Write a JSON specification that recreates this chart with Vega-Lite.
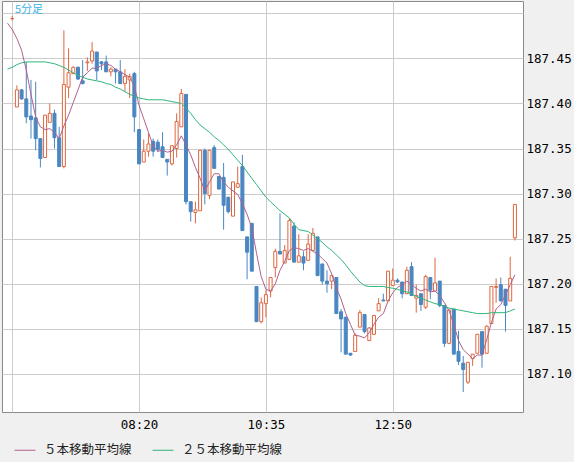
{
  "$schema": "https://vega.github.io/schema/vega-lite/v6.json",
  "width": 521,
  "height": 411,
  "autosize": {"type": "none"},
  "padding": {"left": 2, "top": 1, "right": 51, "bottom": 50},
  "background": "#f0f0f0",
  "title": {
    "text": "5分足",
    "anchor": "start",
    "frame": "group",
    "offset": -14,
    "dx": 13,
    "font": "Noto Sans CJK JP",
    "fontSize": 11,
    "fontWeight": "normal",
    "color": "#38b4ea"
  },
  "config": {
    "view": {"fill": "#ffffff", "stroke": "#8a8a8a"},
    "axis": {
      "labelFont": "DejaVu Sans Mono",
      "labelFontSize": 12.5,
      "labelColor": "#000000",
      "gridColor": "#cccccc",
      "ticks": false,
      "domain": false,
      "title": null
    }
  },
  "data": {
    "values": [
      {"i": -1, "ma5": 187.489, "ma25": 187.438},
      {"i": 0, "o": 187.494, "h": 187.497, "l": 187.492, "c": 187.494, "ma5": 187.482, "ma25": 187.440},
      {"i": 1, "o": 187.396, "h": 187.420, "l": 187.396, "c": 187.415, "ma5": 187.472, "ma25": 187.443},
      {"i": 2, "o": 187.415, "h": 187.416, "l": 187.404, "c": 187.405, "ma5": 187.459, "ma25": 187.445},
      {"i": 3, "o": 187.405, "h": 187.446, "l": 187.378, "c": 187.385, "ma5": 187.437, "ma25": 187.446},
      {"i": 4, "o": 187.386, "h": 187.426, "l": 187.361, "c": 187.382, "ma5": 187.410, "ma25": 187.446},
      {"i": 5, "o": 187.384, "h": 187.424, "l": 187.348, "c": 187.361, "ma5": 187.385, "ma25": 187.446},
      {"i": 6, "o": 187.361, "h": 187.361, "l": 187.329, "c": 187.339, "ma5": 187.374, "ma25": 187.446},
      {"i": 7, "o": 187.340, "h": 187.387, "l": 187.340, "c": 187.387, "ma5": 187.371, "ma25": 187.446},
      {"i": 8, "o": 187.379, "h": 187.400, "l": 187.379, "c": 187.389, "ma5": 187.372, "ma25": 187.445},
      {"i": 9, "o": 187.389, "h": 187.393, "l": 187.350, "c": 187.362, "ma5": 187.368, "ma25": 187.444},
      {"i": 10, "o": 187.362, "h": 187.374, "l": 187.330, "c": 187.330, "ma5": 187.361, "ma25": 187.442},
      {"i": 11, "o": 187.330, "h": 187.481, "l": 187.328, "c": 187.421, "ma5": 187.375, "ma25": 187.440},
      {"i": 12, "o": 187.418, "h": 187.461, "l": 187.406, "c": 187.434, "ma5": 187.387, "ma25": 187.437},
      {"i": 13, "o": 187.433, "h": 187.441, "l": 187.433, "c": 187.440, "ma5": 187.401, "ma25": 187.434},
      {"i": 14, "o": 187.440, "h": 187.441, "l": 187.426, "c": 187.427, "ma5": 187.415, "ma25": 187.431},
      {"i": 15, "o": 187.425, "h": 187.448, "l": 187.421, "c": 187.422, "ma5": 187.429, "ma25": 187.429},
      {"i": 16, "o": 187.445, "h": 187.451, "l": 187.436, "c": 187.446, "ma5": 187.434, "ma25": 187.427},
      {"i": 17, "o": 187.447, "h": 187.468, "l": 187.444, "c": 187.458, "ma5": 187.439, "ma25": 187.426},
      {"i": 18, "o": 187.457, "h": 187.457, "l": 187.426, "c": 187.436, "ma5": 187.439, "ma25": 187.425},
      {"i": 19, "o": 187.446, "h": 187.447, "l": 187.437, "c": 187.444, "ma5": 187.442, "ma25": 187.424},
      {"i": 20, "o": 187.446, "h": 187.453, "l": 187.435, "c": 187.435, "ma5": 187.444, "ma25": 187.422},
      {"i": 21, "o": 187.435, "h": 187.440, "l": 187.430, "c": 187.438, "ma5": 187.442, "ma25": 187.421},
      {"i": 22, "o": 187.438, "h": 187.438, "l": 187.422, "c": 187.435, "ma5": 187.438, "ma25": 187.418},
      {"i": 23, "o": 187.435, "h": 187.448, "l": 187.422, "c": 187.422, "ma5": 187.435, "ma25": 187.416},
      {"i": 24, "o": 187.422, "h": 187.438, "l": 187.413, "c": 187.430, "ma5": 187.432, "ma25": 187.413},
      {"i": 25, "o": 187.426, "h": 187.433, "l": 187.406, "c": 187.430, "ma5": 187.429, "ma25": 187.410},
      {"i": 26, "o": 187.433, "h": 187.435, "l": 187.368, "c": 187.385, "ma5": 187.419, "ma25": 187.408},
      {"i": 27, "o": 187.371, "h": 187.371, "l": 187.333, "c": 187.333, "ma5": 187.398, "ma25": 187.406},
      {"i": 28, "o": 187.335, "h": 187.360, "l": 187.335, "c": 187.347, "ma5": 187.383, "ma25": 187.405},
      {"i": 29, "o": 187.347, "h": 187.367, "l": 187.341, "c": 187.355, "ma5": 187.368, "ma25": 187.404},
      {"i": 30, "o": 187.358, "h": 187.361, "l": 187.341, "c": 187.347, "ma5": 187.353, "ma25": 187.404},
      {"i": 31, "o": 187.357, "h": 187.360, "l": 187.346, "c": 187.349, "ma5": 187.347, "ma25": 187.404},
      {"i": 32, "o": 187.352, "h": 187.368, "l": 187.340, "c": 187.340, "ma5": 187.348, "ma25": 187.404},
      {"i": 33, "o": 187.338, "h": 187.338, "l": 187.320, "c": 187.335, "ma5": 187.346, "ma25": 187.403},
      {"i": 34, "o": 187.333, "h": 187.353, "l": 187.331, "c": 187.353, "ma5": 187.347, "ma25": 187.402},
      {"i": 35, "o": 187.350, "h": 187.389, "l": 187.340, "c": 187.380, "ma5": 187.354, "ma25": 187.401},
      {"i": 36, "o": 187.374, "h": 187.416, "l": 187.374, "c": 187.411, "ma5": 187.364, "ma25": 187.400},
      {"i": 37, "o": 187.410, "h": 187.410, "l": 187.288, "c": 187.291, "ma5": 187.354, "ma25": 187.395},
      {"i": 38, "o": 187.291, "h": 187.291, "l": 187.269, "c": 187.280, "ma5": 187.343, "ma25": 187.389},
      {"i": 39, "o": 187.279, "h": 187.291, "l": 187.267, "c": 187.282, "ma5": 187.329, "ma25": 187.382},
      {"i": 40, "o": 187.281, "h": 187.348, "l": 187.281, "c": 187.348, "ma5": 187.317, "ma25": 187.376},
      {"i": 41, "o": 187.348, "h": 187.350, "l": 187.288, "c": 187.300, "ma5": 187.303, "ma25": 187.372},
      {"i": 42, "o": 187.298, "h": 187.348, "l": 187.294, "c": 187.348, "ma5": 187.313, "ma25": 187.368},
      {"i": 43, "o": 187.351, "h": 187.354, "l": 187.328, "c": 187.328, "ma5": 187.322, "ma25": 187.363},
      {"i": 44, "o": 187.319, "h": 187.319, "l": 187.305, "c": 187.305, "ma5": 187.322, "ma25": 187.359},
      {"i": 45, "o": 187.318, "h": 187.334, "l": 187.260, "c": 187.287, "ma5": 187.313, "ma25": 187.354},
      {"i": 46, "o": 187.296, "h": 187.296, "l": 187.278, "c": 187.280, "ma5": 187.307, "ma25": 187.349},
      {"i": 47, "o": 187.275, "h": 187.313, "l": 187.275, "c": 187.313, "ma5": 187.303, "ma25": 187.343},
      {"i": 48, "o": 187.307, "h": 187.330, "l": 187.307, "c": 187.311, "ma5": 187.299, "ma25": 187.337},
      {"i": 49, "o": 187.330, "h": 187.343, "l": 187.259, "c": 187.259, "ma5": 187.289, "ma25": 187.331},
      {"i": 50, "o": 187.252, "h": 187.252, "l": 187.205, "c": 187.235, "ma5": 187.277, "ma25": 187.324},
      {"i": 51, "o": 187.267, "h": 187.267, "l": 187.214, "c": 187.214, "ma5": 187.262, "ma25": 187.317},
      {"i": 52, "o": 187.197, "h": 187.197, "l": 187.158, "c": 187.158, "ma5": 187.234, "ma25": 187.310},
      {"i": 53, "o": 187.158, "h": 187.185, "l": 187.156, "c": 187.179, "ma5": 187.208, "ma25": 187.303},
      {"i": 54, "o": 187.178, "h": 187.193, "l": 187.163, "c": 187.188, "ma5": 187.194, "ma25": 187.296},
      {"i": 55, "o": 187.192, "h": 187.207, "l": 187.185, "c": 187.207, "ma5": 187.192, "ma25": 187.291},
      {"i": 56, "o": 187.218, "h": 187.239, "l": 187.207, "c": 187.236, "ma5": 187.200, "ma25": 187.286},
      {"i": 57, "o": 187.236, "h": 187.278, "l": 187.233, "c": 187.233, "ma5": 187.215, "ma25": 187.281},
      {"i": 58, "o": 187.223, "h": 187.243, "l": 187.223, "c": 187.237, "ma5": 187.225, "ma25": 187.277},
      {"i": 59, "o": 187.227, "h": 187.273, "l": 187.227, "c": 187.270, "ma5": 187.237, "ma25": 187.273},
      {"i": 60, "o": 187.264, "h": 187.268, "l": 187.224, "c": 187.224, "ma5": 187.240, "ma25": 187.266},
      {"i": 61, "o": 187.224, "h": 187.255, "l": 187.224, "c": 187.231, "ma5": 187.239, "ma25": 187.260},
      {"i": 62, "o": 187.230, "h": 187.236, "l": 187.215, "c": 187.223, "ma5": 187.237, "ma25": 187.259},
      {"i": 63, "o": 187.226, "h": 187.255, "l": 187.226, "c": 187.244, "ma5": 187.239, "ma25": 187.258},
      {"i": 64, "o": 187.237, "h": 187.262, "l": 187.237, "c": 187.256, "ma5": 187.236, "ma25": 187.254},
      {"i": 65, "o": 187.252, "h": 187.252, "l": 187.209, "c": 187.209, "ma5": 187.233, "ma25": 187.250},
      {"i": 66, "o": 187.222, "h": 187.222, "l": 187.199, "c": 187.203, "ma5": 187.228, "ma25": 187.246},
      {"i": 67, "o": 187.203, "h": 187.215, "l": 187.190, "c": 187.200, "ma5": 187.223, "ma25": 187.241},
      {"i": 68, "o": 187.203, "h": 187.209, "l": 187.194, "c": 187.209, "ma5": 187.211, "ma25": 187.237},
      {"i": 69, "o": 187.207, "h": 187.207, "l": 187.167, "c": 187.167, "ma5": 187.195, "ma25": 187.232},
      {"i": 70, "o": 187.169, "h": 187.172, "l": 187.124, "c": 187.161, "ma5": 187.183, "ma25": 187.227},
      {"i": 71, "o": 187.163, "h": 187.163, "l": 187.122, "c": 187.122, "ma5": 187.167, "ma25": 187.221},
      {"i": 72, "o": 187.123, "h": 187.123, "l": 187.120, "c": 187.121, "ma5": 187.155, "ma25": 187.214},
      {"i": 73, "o": 187.125, "h": 187.145, "l": 187.125, "c": 187.143, "ma5": 187.143, "ma25": 187.208},
      {"i": 74, "o": 187.152, "h": 187.171, "l": 187.152, "c": 187.168, "ma5": 187.142, "ma25": 187.202},
      {"i": 75, "o": 187.166, "h": 187.166, "l": 187.145, "c": 187.147, "ma5": 187.140, "ma25": 187.198},
      {"i": 76, "o": 187.137, "h": 187.152, "l": 187.137, "c": 187.151, "ma5": 187.146, "ma25": 187.197},
      {"i": 77, "o": 187.144, "h": 187.165, "l": 187.144, "c": 187.165, "ma5": 187.155, "ma25": 187.197},
      {"i": 78, "o": 187.170, "h": 187.184, "l": 187.170, "c": 187.178, "ma5": 187.163, "ma25": 187.197},
      {"i": 79, "o": 187.182, "h": 187.189, "l": 187.181, "c": 187.181, "ma5": 187.167, "ma25": 187.197},
      {"i": 80, "o": 187.181, "h": 187.214, "l": 187.181, "c": 187.214, "ma5": 187.181, "ma25": 187.196},
      {"i": 81, "o": 187.198, "h": 187.217, "l": 187.198, "c": 187.204, "ma5": 187.190, "ma25": 187.195},
      {"i": 82, "o": 187.204, "h": 187.206, "l": 187.201, "c": 187.202, "ma5": 187.196, "ma25": 187.194},
      {"i": 83, "o": 187.202, "h": 187.202, "l": 187.184, "c": 187.189, "ma5": 187.199, "ma25": 187.192},
      {"i": 84, "o": 187.189, "h": 187.219, "l": 187.189, "c": 187.215, "ma5": 187.203, "ma25": 187.191},
      {"i": 85, "o": 187.219, "h": 187.224, "l": 187.187, "c": 187.187, "ma5": 187.199, "ma25": 187.189},
      {"i": 86, "o": 187.184, "h": 187.199, "l": 187.168, "c": 187.187, "ma5": 187.195, "ma25": 187.186},
      {"i": 87, "o": 187.189, "h": 187.189, "l": 187.170, "c": 187.177, "ma5": 187.192, "ma25": 187.184},
      {"i": 88, "o": 187.174, "h": 187.210, "l": 187.172, "c": 187.208, "ma5": 187.194, "ma25": 187.182},
      {"i": 89, "o": 187.207, "h": 187.207, "l": 187.183, "c": 187.193, "ma5": 187.191, "ma25": 187.180},
      {"i": 90, "o": 187.192, "h": 187.229, "l": 187.192, "c": 187.201, "ma5": 187.192, "ma25": 187.178},
      {"i": 91, "o": 187.203, "h": 187.203, "l": 187.174, "c": 187.176, "ma5": 187.187, "ma25": 187.177},
      {"i": 92, "o": 187.176, "h": 187.176, "l": 187.130, "c": 187.134, "ma5": 187.179, "ma25": 187.175},
      {"i": 93, "o": 187.134, "h": 187.171, "l": 187.133, "c": 187.171, "ma5": 187.170, "ma25": 187.173},
      {"i": 94, "o": 187.172, "h": 187.172, "l": 187.122, "c": 187.122, "ma5": 187.155, "ma25": 187.172},
      {"i": 95, "o": 187.125, "h": 187.148, "l": 187.110, "c": 187.114, "ma5": 187.137, "ma25": 187.171},
      {"i": 96, "o": 187.112, "h": 187.120, "l": 187.080, "c": 187.105, "ma5": 187.127, "ma25": 187.170},
      {"i": 97, "o": 187.091, "h": 187.113, "l": 187.089, "c": 187.113, "ma5": 187.122, "ma25": 187.169},
      {"i": 98, "o": 187.117, "h": 187.122, "l": 187.109, "c": 187.122, "ma5": 187.117, "ma25": 187.168},
      {"i": 99, "o": 187.123, "h": 187.144, "l": 187.123, "c": 187.144, "ma5": 187.121, "ma25": 187.167},
      {"i": 100, "o": 187.147, "h": 187.147, "l": 187.107, "c": 187.122, "ma5": 187.121, "ma25": 187.167},
      {"i": 101, "o": 187.123, "h": 187.154, "l": 187.123, "c": 187.153, "ma5": 187.138, "ma25": 187.167},
      {"i": 102, "o": 187.156, "h": 187.197, "l": 187.156, "c": 187.197, "ma5": 187.157, "ma25": 187.168},
      {"i": 103, "o": 187.196, "h": 187.206, "l": 187.179, "c": 187.197, "ma5": 187.172, "ma25": 187.168},
      {"i": 104, "o": 187.199, "h": 187.207, "l": 187.181, "c": 187.181, "ma5": 187.177, "ma25": 187.168},
      {"i": 105, "o": 187.194, "h": 187.194, "l": 187.147, "c": 187.176, "ma5": 187.188, "ma25": 187.168},
      {"i": 106, "o": 187.181, "h": 187.230, "l": 187.181, "c": 187.206, "ma5": 187.199, "ma25": 187.170},
      {"i": 107, "o": 187.251, "h": 187.288, "l": 187.248, "c": 187.288, "ma5": 187.210, "ma25": 187.172}
    ]
  },
  "encoding": {
    "x": {
      "field": "i",
      "type": "quantitative",
      "scale": {"domain": [-1.106, 107.66], "nice": false, "zero": false},
      "axis": {
        "values": [0, 27, 54, 81],
        "labelExpr": "datum.value == 27 ? '08:20' : datum.value == 54 ? '10:35' : datum.value == 81 ? '12:50' : ''",
        "labelPadding": 6,
        "labelFlush": false
      }
    }
  },
  "layer": [
    {
      "transform": [{"filter": "isValid(datum.o)"}],
      "mark": {"type": "rule", "strokeWidth": 1},
      "encoding": {
        "y": {
          "field": "l",
          "type": "quantitative",
          "scale": {"domain": [187.05787, 187.51353], "nice": false, "zero": false},
          "axis": {
            "orient": "right",
            "values": [187.1, 187.15, 187.2, 187.25, 187.3, 187.35, 187.4, 187.45, 187.5],
            "labelExpr": "datum.value > 187.49 ? '' : format(datum.value, '.2f')",
            "labelPadding": 3
          }
        },
        "y2": {"field": "h"},
        "color": {
          "condition": {"test": "datum.c >= datum.o", "value": "#e0663e"},
          "value": "#4a87c2"
        }
      }
    },
    {
      "transform": [{"filter": "isValid(datum.o)"}],
      "mark": {"type": "bar", "size": 3, "strokeWidth": 1},
      "encoding": {
        "y": {
          "field": "o",
          "type": "quantitative",
          "scale": {"domain": [187.05787, 187.51353], "nice": false, "zero": false}
        },
        "y2": {"field": "c"},
        "fill": {
          "condition": {"test": "datum.c >= datum.o", "value": "#ffffff"},
          "value": "#4a87c2"
        },
        "stroke": {
          "condition": {"test": "datum.c >= datum.o", "value": "#e0663e"},
          "value": "#4a87c2"
        }
      }
    },
    {
      "transform": [{"fold": ["ma5", "ma25"], "as": ["series", "value"]}],
      "mark": {"type": "line", "strokeWidth": 1, "clip": true},
      "encoding": {
        "y": {
          "field": "value",
          "type": "quantitative",
          "scale": {"domain": [187.05787, 187.51353], "nice": false, "zero": false}
        },
        "color": {
          "field": "series",
          "type": "nominal",
          "scale": {"domain": ["ma5", "ma25"], "range": ["#b0608c", "#2fb57a"]},
          "legend": {
            "orient": "none",
            "legendX": 12,
            "legendY": 438,
            "direction": "horizontal",
            "title": null,
            "padding": 0,
            "symbolType": "stroke",
            "symbolSize": 441,
            "symbolStrokeWidth": 1,
            "labelFont": "Noto Sans CJK JP",
            "labelFontSize": 12.5,
            "labelColor": "#222222",
            "labelOffset": 8,
            "columnPadding": 18,
            "labelExpr": "datum.label == 'ma5' ? '５本移動平均線' : '２５本移動平均線'"
          }
        }
      }
    }
  ]
}
